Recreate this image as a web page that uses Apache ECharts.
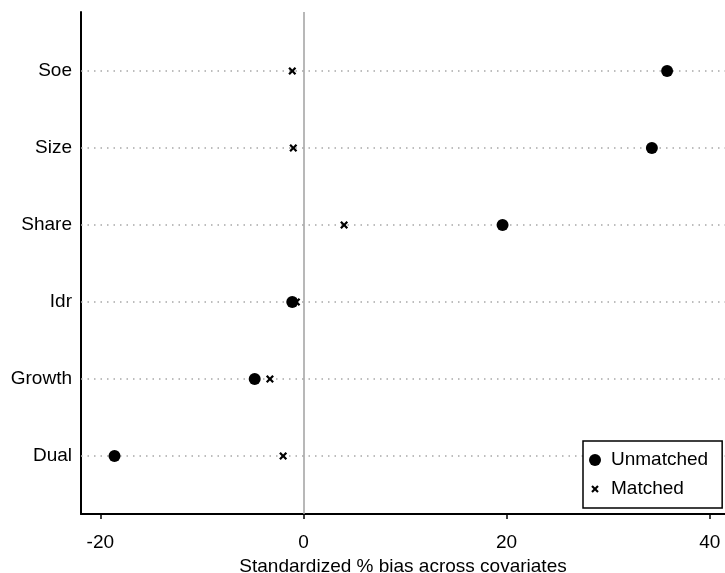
<!DOCTYPE html>
<html>
<head>
<meta charset="utf-8">
<script src="https://cdn.jsdelivr.net/npm/echarts@6/dist/echarts.min.js"></script>
<style>
html,body{margin:0;padding:0;background:#fff;overflow:hidden;}
#chart{width:725px;height:573px;}
</style>
</head>
<body>
<div id="chart"></div>
<script>
const categories = ['Soe', 'Size', 'Share', 'Idr', 'Growth', 'Dual'];
const unmatched = [35.8, 34.3, 19.6, -1.1, -4.8, -18.6];
const matched = [-1.1, -1.0, 4.0, -0.7, -3.3, -2.0];
const xTicks = [-20, 0, 20, 40];
const xTitle = 'Standardized % bias across covariates';
const seriesNames = ['Unmatched', 'Matched'];

const FONT = 'Liberation Sans, Arial, Helvetica, sans-serif';
const n = categories.length;
const posOf = i => n - i;
const yPositions = categories.map((c, i) => posOf(i));
const nameByPos = {};
categories.forEach((c, i) => { nameByPos[posOf(i)] = c; });

const X_SHAPE = 'M0,2 L2,0 L5,3 L8,0 L10,2 L7,5 L10,8 L8,10 L5,7 L2,10 L0,8 L3,5 Z';
const xSymbol = 'path://' + X_SHAPE;
const xLegendIcon = 'path://M-3,-3 M13,13 ' + X_SHAPE;

const chart = echarts.init(document.getElementById('chart'), null, {renderer: 'canvas'});
chart.setOption({
  animation: false,
  backgroundColor: '#fff',
  textStyle: {fontFamily: FONT},
  grid: {left: 81, top: 12, right: 0, bottom: 59, containLabel: false, outerBoundsMode: 'none'},
  legend: {
    data: [
      {name: seriesNames[0], icon: 'circle'},
      {name: seriesNames[1], icon: xLegendIcon}
    ],
    orient: 'vertical',
    left: 583,
    top: 441,
    z: 10,
    itemWidth: 12,
    itemHeight: 12,
    itemGap: 9,
    padding: [9, 14, 9, 6],
    borderColor: '#000',
    borderWidth: 1.5,
    backgroundColor: '#fff',
    selectedMode: false,
    itemStyle: {opacity: 1},
    textStyle: {fontSize: 19, lineHeight: 20, color: '#000', fontFamily: FONT, padding: [0, 0, 0, 5]}
  },
  xAxis: {
    type: 'value',
    min: -21.9,
    max: 41.5,
    name: xTitle,
    nameLocation: 'middle',
    nameGap: 35,
    nameTextStyle: {fontSize: 19, color: '#000', fontFamily: FONT},
    axisLine: {show: true, lineStyle: {color: '#000', width: 2}},
    axisTick: {show: true, length: 5, lineStyle: {color: '#000', width: 1.5}, customValues: xTicks},
    axisLabel: {fontSize: 19, color: '#000', margin: 19, fontFamily: FONT, customValues: xTicks},
    splitLine: {show: false}
  },
  yAxis: {
    type: 'value',
    min: 0.247,
    max: 6.766,
    axisLine: {show: true, onZero: false, lineStyle: {color: '#000', width: 2}},
    axisTick: {show: false},
    axisLabel: {
      fontSize: 19, color: '#000', margin: 9, fontFamily: FONT,
      customValues: yPositions,
      formatter: v => nameByPos[Math.round(v)] || ''
    },
    splitLine: {show: false}
  },
  series: [
    {
      name: 'guides',
      type: 'scatter',
      data: [],
      z: 1,
      silent: true,
      markLine: {
        z: 1,
        silent: true,
        symbol: 'none',
        label: {show: false},
        emphasis: {disabled: true},
        animation: false,
        data: yPositions.map(p => ({yAxis: p, lineStyle: {color: '#a8a8a8', width: 1.5, type: [1.5, 5]}}))
          .concat([{xAxis: 0, lineStyle: {color: '#a0a0a0', width: 1.5, type: 'solid'}}])
      }
    },
    {
      name: seriesNames[1],
      type: 'scatter',
      z: 3,
      symbol: xSymbol,
      symbolSize: 8,
      symbolKeepAspect: true,
      itemStyle: {color: '#000', opacity: 1},
      data: matched.map((v, i) => [v, posOf(i)])
    },
    {
      name: seriesNames[0],
      type: 'scatter',
      z: 4,
      symbol: 'circle',
      symbolSize: 12,
      itemStyle: {color: '#000', opacity: 1},
      data: unmatched.map((v, i) => [v, posOf(i)])
    }
  ]
});
</script>
</body>
</html>
